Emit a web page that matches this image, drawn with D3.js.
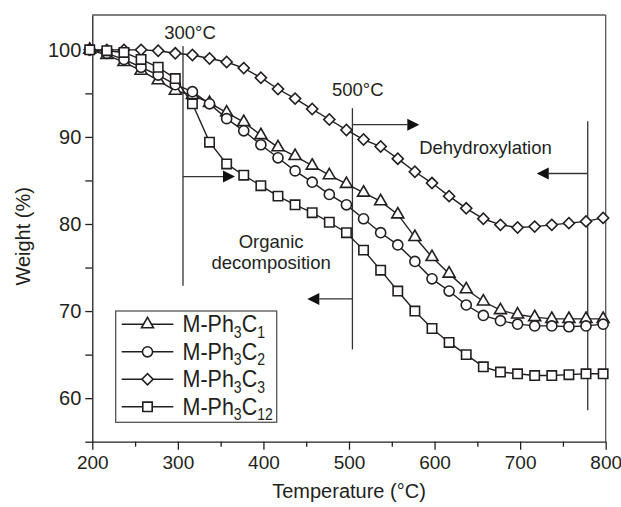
<!DOCTYPE html>
<html><head><meta charset="utf-8">
<script src="https://cdn.jsdelivr.net/npm/d3@7"></script>
<style>
body{margin:0;background:#fff}
svg{display:block}
text{font-family:"Liberation Sans",Arial,Helvetica,sans-serif;fill:#231f20}
</style>
</head><body>
<svg id="chart" width="621" height="507"></svg>
<script>
// ---- data ----
const temps = [197,217,237,257,277,297,317,337,357,377,397,417,437,457,477,497,517,537,557,577,597,617,637,657,677,697,717,737,757,777,797];
const c1  = [100,99.4,98.6,97.6,96.5,95.3,94.8,93.9,92.8,91.7,90.2,88.8,87.8,86.7,85.6,84.6,83.6,82.6,81.1,78.5,76.2,74.3,72.5,71.1,70.1,69.6,69.3,69.1,69.1,69.1,69.1];
const c2  = [100,99.6,98.9,98.0,97.1,96.0,95.2,93.8,92.1,90.7,89.1,87.6,86.1,84.8,83.4,82.2,80.6,79.0,77.6,75.7,73.7,72.3,70.7,69.5,68.9,68.5,68.3,68.3,68.2,68.3,68.5];
const c3  = [100,100,100,100,99.9,99.6,99.4,99.0,98.6,97.9,96.8,95.5,94.4,93.2,92.0,90.8,89.7,88.9,87.5,86.0,84.7,83.2,81.8,80.6,79.9,79.6,79.7,79.9,80.1,80.3,80.7];
const c12 = [100,99.9,99.7,98.9,98.0,96.7,93.8,89.4,86.9,85.6,84.4,83.2,82.2,81.3,80.2,79.0,77.0,74.7,72.3,70.0,68.0,66.4,65.0,63.6,63.0,62.8,62.6,62.6,62.7,62.8,62.8];
const seriesMain = ["M-Ph","M-Ph","M-Ph","M-Ph"];
const seriesSub1 = ["3","3","3","3"];
const seriesSub2 = ["1","2","3","12"];
const seriesMarkers = ["triangle","circle","diamond","square"];
const xMajor = [200,300,400,500,600,700,800];
const xMinor = [250,350,450,550,650,750];
const yMajor = [60,70,80,90,100];
const yMinor = [55,65,75,85,95];
const xTitle = "Temperature (°C)";
const yTitle = "Weight (%)";

// ---- scales ----
const svg = d3.select("#chart");
const x = d3.scaleLinear().domain([200,800]).range([92.3,605.7]);
const y = d3.scaleLinear().domain([55,104]).range([441.7,15]);
const ink = "#231f20";

const values = [c1,c2,c3,c12];
const symbolFor = {
  triangle: d3.symbol().type(d3.symbolTriangle).size(62),
  circle: d3.symbol().type(d3.symbolCircle).size(80),
  diamond: d3.symbol().type(d3.symbolSquare).size(62),
  square: d3.symbol().type(d3.symbolSquare).size(88)
};
const rotFor = {triangle:0,circle:0,diamond:45,square:0};

// frame (top/right)
svg.append("line").attr("x1",x(200)).attr("x2",x(800)).attr("y1",y(104)).attr("y2",y(104))
  .attr("stroke","#555").attr("stroke-width",1.3);
svg.append("line").attr("x1",x(800)).attr("x2",x(800)).attr("y1",y(104)).attr("y2",y(55))
  .attr("stroke","#555").attr("stroke-width",1.3);

// axes
const gx = svg.append("g").attr("transform",`translate(0,${y(55)})`);
gx.call(d3.axisBottom(x).tickValues(xMajor).tickSize(8).tickSizeOuter(0).tickPadding(6).tickFormat(d3.format("d")));
const gxm = svg.append("g").attr("transform",`translate(0,${y(55)})`);
gxm.call(d3.axisBottom(x).tickValues(xMinor).tickSize(5).tickSizeOuter(0).tickFormat(""));
gxm.select(".domain").remove();
const gy = svg.append("g").attr("transform",`translate(${x(200)},0)`);
gy.call(d3.axisLeft(y).tickValues(yMajor).tickSize(7).tickSizeOuter(0).tickPadding(4).tickFormat(d3.format("d")));
const gym = svg.append("g").attr("transform",`translate(${x(200)},0)`);
gym.call(d3.axisLeft(y).tickValues(yMinor).tickSize(7).tickSizeOuter(0).tickFormat(""));
gym.select(".domain").remove();
svg.selectAll(".domain").attr("stroke",ink).attr("stroke-width",1.3);
svg.selectAll(".tick line").attr("stroke",ink).attr("stroke-width",1.3);
svg.selectAll(".tick text").attr("fill",ink)
  .style("font-family",'"Liberation Sans",Arial,sans-serif');
gx.selectAll(".tick text").attr("font-size",19);
gy.selectAll(".tick text").attr("font-size",20);

// titles
svg.append("text").attr("x",(x(200)+x(800))/2).attr("y",498).attr("text-anchor","middle")
  .attr("font-size",20).text(xTitle);
svg.append("text").attr("transform",`translate(30,${(y(55)+y(104))/2 + 8}) rotate(-90)`)
  .attr("text-anchor","middle").attr("font-size",20).text(yTitle);

// annotation lines & arrows (in data units)
const annLines = [
  {t:306, v0:100.45, v1:72.9},
  {t:504, v0:93.3, v1:65.6},
  {t:779, v0:91.8, v1:58.6}
];
const arrows = [
  {v:85.45, t0:306, t1:366.8},
  {v:91.4, t0:504, t1:582.2},
  {v:71.4, t0:504, t1:451.3},
  {v:85.8, t0:779, t1:719.4}
];
const ann = svg.append("g");
annLines.forEach(d=>{
  ann.append("line").attr("x1",x(d.t)).attr("x2",x(d.t)).attr("y1",y(d.v0)).attr("y2",y(d.v1))
    .attr("stroke","#333").attr("stroke-width",1.3);
});
arrows.forEach(d=>{
  const xs=x(d.t0), xe=x(d.t1), yy=y(d.v), dir=Math.sign(xe-xs), L=12, W=6;
  ann.append("line").attr("x1",xs).attr("x2",xe-dir*L).attr("y1",yy).attr("y2",yy)
    .attr("stroke","#333").attr("stroke-width",1.3);
  ann.append("path").attr("d",`M${xe},${yy}L${xe-dir*L},${yy-W}L${xe-dir*L},${yy+W}Z`).attr("fill","#111");
});
const labels = [
  {t:"300°C", tx:284, v:101.2, anchor:"start"},
  {t:"500°C", tx:480, v:94.7, anchor:"start"},
  {t:"Dehydroxylation", tx:582, v:88.05, anchor:"start"},
  {t:"Organic", tx:409, v:77.3, anchor:"middle"},
  {t:"decomposition", tx:409, v:74.8, anchor:"middle"}
];
labels.forEach(d=>{
  ann.append("text").attr("x",x(d.tx)).attr("y",y(d.v)).attr("text-anchor",d.anchor)
    .attr("font-size",18.5).text(d.t);
});

// series
const line = d3.line().x((d,i)=>x(temps[i])).y(d=>y(d));
values.forEach((vals,k)=>{
  const g = svg.append("g");
  g.append("path").attr("d",line(vals)).attr("fill","none").attr("stroke",ink).attr("stroke-width",1.4);
  const m = seriesMarkers[k];
  g.selectAll("path.m").data(vals).join("path").attr("class","m")
    .attr("d",symbolFor[m]())
    .attr("transform",(d,i)=>`translate(${x(temps[i])},${y(d)}) rotate(${rotFor[m]})`)
    .attr("fill","#fff").attr("stroke",ink).attr("stroke-width",1.6);
});

// legend
const lg = svg.append("g");
lg.append("rect").attr("x",115.7).attr("y",311).attr("width",161).attr("height",111.3)
  .attr("fill","#fff").attr("stroke","#555").attr("stroke-width",1.3);
seriesMarkers.forEach((m,k)=>{
  const ry = 324.3 + k*27.5;
  lg.append("line").attr("x1",121.7).attr("x2",173.3).attr("y1",ry).attr("y2",ry)
    .attr("stroke",ink).attr("stroke-width",1.4);
  lg.append("path").attr("d",symbolFor[m]())
    .attr("transform",`translate(147.5,${ry}) rotate(${rotFor[m]})`)
    .attr("fill","#fff").attr("stroke",ink).attr("stroke-width",1.6);
  const t = lg.append("text").attr("transform",`translate(182.5,${ry+8}) scale(1,1.12)`).attr("font-size",21.5);
  t.append("tspan").text(seriesMain[k]);
  t.append("tspan").attr("font-size",14).attr("dy",5).text(seriesSub1[k]);
  t.append("tspan").attr("font-size",21.5).attr("dy",-5).text("C");
  t.append("tspan").attr("font-size",14).attr("dy",5).text(seriesSub2[k]);
});
</script>
</body></html>
